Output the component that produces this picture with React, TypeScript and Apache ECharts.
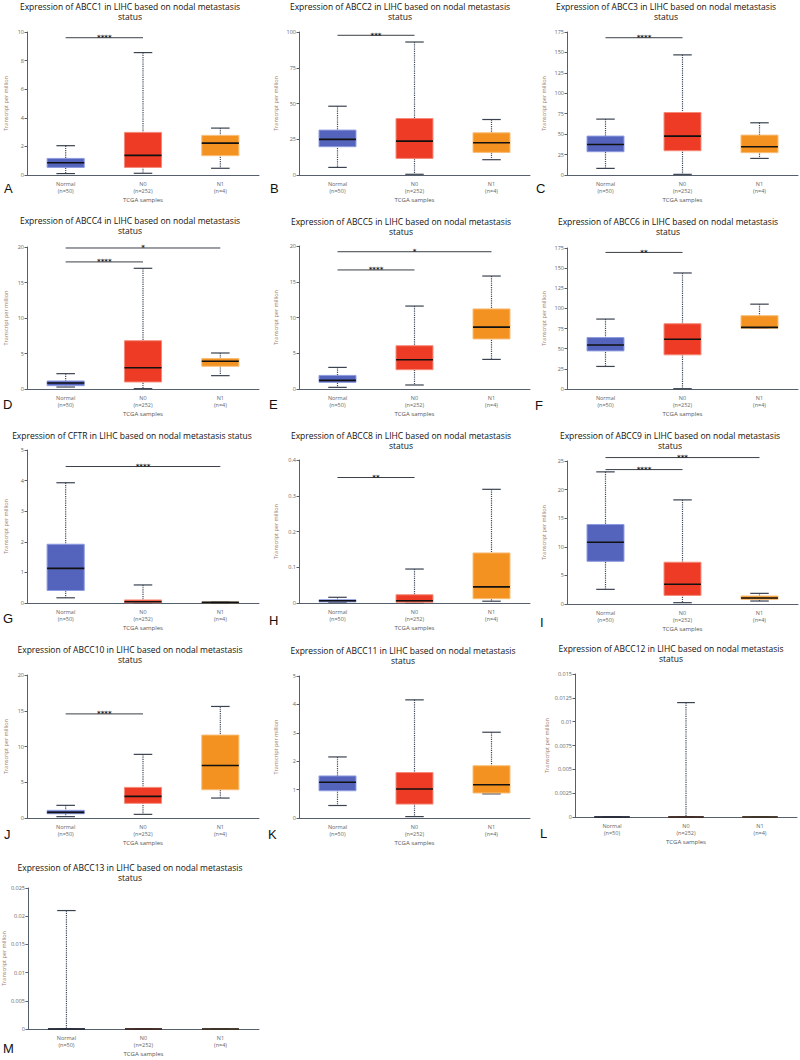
import React, { useEffect, useRef } from "react";
import * as echarts from "echarts";

// ---------- DATA ----------
const categories = ["Normal\n(n=50)", "N0\n(n=252)", "N1\n(n=4)"];
const genes = ["ABCC1", "ABCC2", "ABCC3", "ABCC4", "ABCC5", "ABCC6", "CFTR", "ABCC8", "ABCC9", "ABCC10", "ABCC11", "ABCC12", "ABCC13"];
const panelLetters = ["A", "B", "C", "D", "E", "F", "G", "H", "I", "J", "K", "L", "M"];

// each group: [min, Q1, median, Q3, max] for Normal, N0, N1
const abcc1 = [[0.1, 0.53, 0.86, 1.16, 2.05], [0.12, 0.53, 1.37, 2.98, 8.56], [0.47, 1.35, 2.23, 2.77, 3.28]];
const abcc2 = [[5.3, 19.8, 24.9, 31.4, 48.1], [0.5, 11.6, 23.7, 39.5, 93], [10.7, 15.8, 22.6, 29.5, 38.8]];
const abcc3 = [[8.1, 28.5, 37.4, 47.6, 68.4], [0.8, 29.7, 47.6, 76.5, 147], [20.3, 27.3, 34.6, 48.8, 63.9]];
const abcc4 = [[0.28, 0.47, 0.85, 1.13, 2.16], [0.05, 0.99, 3.0, 6.8, 17.0], [1.88, 3.2, 3.9, 4.3, 5.07]];
const abcc5 = [[0.23, 0.93, 1.2, 1.9, 3.02], [0.56, 2.7, 4.1, 6.05, 11.6], [4.14, 7.0, 8.65, 11.2, 15.8]];
const abcc6 = [[28, 47.3, 54.7, 63.8, 86.8], [0.4, 42.4, 61.7, 81, 144], [75.3, 75.3, 76.5, 91, 105.3]];
const cftr = [[0.17, 0.41, 1.13, 1.92, 3.93], [0, 0.01, 0.04, 0.1, 0.59], [0, 0.01, 0.02, 0.03, 0.03]];
const abcc8 = [[0.002, 0.003, 0.0065, 0.009, 0.016], [0, 0.002, 0.0065, 0.023, 0.095], [0.005, 0.012, 0.045, 0.14, 0.318]];
const abcc9 = [[2.56, 7.46, 10.8, 13.9, 23.1], [0.23, 1.5, 3.44, 7.3, 18.2], [0.52, 0.8, 1.05, 1.4, 1.86]];
const abcc10 = [[0.19, 0.6, 0.79, 1.07, 1.77], [0.51, 2.05, 3.02, 4.28, 8.9], [2.79, 3.95, 7.35, 11.6, 15.6]];
const abcc11 = [[0.44, 0.96, 1.26, 1.48, 2.15], [0.05, 0.49, 1.02, 1.6, 4.16], [0.85, 0.88, 1.17, 1.84, 3.02]];
const abcc12 = [[0, 0, 0, 0, 0], [0, 0, 0, 0, 0.012], [0, 0, 0, 0, 0]];
const abcc13 = [[0, 0, 0, 0, 0.021], [0, 0, 0, 0, 0], [0, 0, 0, 0, 0]];
const boxData = [abcc1, abcc2, abcc3, abcc4, abcc5, abcc6, cftr, abcc8, abcc9, abcc10, abcc11, abcc12, abcc13];

// axis ranges
const yMax = [10, 100, 175, 20, 20, 175, 5, 0.4, 25, 20, 5, 0.015, 0.025];
const yStep = [2, 25, 25, 5, 5, 25, 1, 0.1, 5, 5, 1, 0.0025, 0.005];

// significance bars: [fromGroup, toGroup, y]
const sigA = [[0, 1, 9.6]];
const sigB = [[0, 1, 97.7]];
const sigC = [[0, 1, 168]];
const sigD = [[0, 2, 19.86], [0, 1, 17.9]];
const sigE = [[0, 2, 19.2], [0, 1, 16.65]];
const sigF = [[0, 1, 169.5]];
const sigG = [[0, 2, 4.46]];
const sigH = [[0, 1, 0.351]];
const sigI = [[0, 2, 25.6], [0, 1, 23.5]];
const sigJ = [[0, 1, 14.56]];
const sigBars = [sigA, sigB, sigC, sigD, sigE, sigF, sigG, sigH, sigI, sigJ, [], [], []];
const sigLabels = [["****"], ["***"], ["****"], ["*", "****"], ["*", "****"], ["**"], ["****"], ["**"], ["***", "****"], ["****"], [], [], []];

// ---------- LAYOUT ----------
// [gridLeft, gridWidth, gridTop, axisBottomY]
const grids = [
  [27, 232, 32, 175], [299, 231, 32, 175], [567, 231, 32, 175],
  [27, 232, 247, 389], [299, 231, 246, 389], [567, 231, 248, 389],
  [27, 232, 450, 603], [299, 231, 460, 603], [567, 231, 461, 604],
  [27, 232, 675, 818], [299, 231, 676, 818], [575, 222, 674, 817],
  [27, 232, 888, 1029],
];
// [centerX, firstLineCenterY]
const titlePos = [
  [130, 7], [400, 7], [666, 7],
  [130, 221], [401, 222], [668, 222],
  [132, 435.5], [401, 436], [670, 436],
  [130, 650], [403, 651], [671, 649],
  [130, 868],
];
const letterPos = [
  [4, 188], [270, 188], [536, 188],
  [3, 404], [269, 404], [535, 405],
  [3, 618], [269, 620], [540, 622],
  [4, 834], [268, 834], [540, 833],
  [3, 1048],
];
const nameGaps = [18, 20, 20, 18, 20, 20, 18, 20, 20, 18, 20, 25, 18];

const groupColors = [
  { fill: "#5464BC", border: "#8D9BE0" },
  { fill: "#EE3B26", border: "#F58A78" },
  { fill: "#F39220", border: "#F8BE78" },
];

function makeBoxRender() {
  return (params: any, api: any) => {
    const i = api.value(0);
    const pMin = api.coord([i, api.value(1)]);
    const pQ1 = api.coord([i, api.value(2)]);
    const pMed = api.coord([i, api.value(3)]);
    const pQ3 = api.coord([i, api.value(4)]);
    const pMax = api.coord([i, api.value(5)]);
    const band = api.size([1, 0])[0];
    const bw = band * 0.48;
    const cw = bw * 0.5;
    const cx = pMin[0];
    const c = groupColors[params.dataIndex];
    return {
      type: "group",
      children: [
        { type: "line", shape: { x1: cx, y1: pMax[1], x2: cx, y2: pMin[1] }, style: { stroke: "#3e4a5a", lineWidth: 1.2, lineDash: [1.2, 1] } },
        { type: "line", shape: { x1: cx - cw / 2, y1: pMax[1], x2: cx + cw / 2, y2: pMax[1] }, style: { stroke: "#3a4250", lineWidth: 1.2 } },
        { type: "line", shape: { x1: cx - cw / 2, y1: pMin[1], x2: cx + cw / 2, y2: pMin[1] }, style: { stroke: "#3a4250", lineWidth: 1.2 } },
        { type: "rect", shape: { x: cx - bw / 2, y: pQ3[1], width: bw, height: pQ1[1] - pQ3[1] }, style: { fill: c.fill, stroke: c.border, lineWidth: 1 } },
        { type: "line", shape: { x1: cx - bw / 2, y1: pMed[1], x2: cx + bw / 2, y2: pMed[1] }, style: { stroke: "#111111", lineWidth: 1.6 } },
      ],
    };
  };
}

function makeSigRender(labels: string[]) {
  return (params: any, api: any) => {
    const a = api.coord([api.value(0), api.value(2)]);
    const b = api.coord([api.value(1), api.value(2)]);
    return {
      type: "group",
      children: [
        { type: "line", shape: { x1: a[0], y1: a[1], x2: b[0], y2: b[1] }, style: { stroke: "#3a3f48", lineWidth: 1 } },
        {
          type: "text",
          x: (a[0] + b[0]) / 2,
          y: a[1] + 0.5,
          style: { text: labels[params.dataIndex], align: "center", verticalAlign: "middle", fontSize: 7, fontWeight: "bold", fill: "#222", fontFamily: "DejaVu Sans" },
        },
      ],
    };
  };
}

export default function App() {
  const ref = useRef<HTMLDivElement>(null);
  useEffect(() => {
    if (!ref.current) return;
    const chart = echarts.init(ref.current, undefined, { renderer: "svg" });
    const gridArr: any[] = [];
    const xAxes: any[] = [];
    const yAxes: any[] = [];
    const series: any[] = [];
    const graphics: any[] = [];
    genes.forEach((g, k) => {
      const [l, w, t, b] = grids[k];
      gridArr.push({ left: l, top: t, width: w, height: b - t });
      xAxes.push({
        type: "category",
        gridIndex: k,
        data: categories,
        axisLine: { lineStyle: { color: "#55606c", width: 1 } },
        axisTick: { show: false },
        axisLabel: { fontSize: 5.5, lineHeight: 7, color: "#666", margin: 5, fontFamily: "Open Sans" },
        name: "TCGA samples",
        nameLocation: "middle",
        nameGap: 22,
        nameTextStyle: { fontSize: 6, color: "#555", fontFamily: "Open Sans" },
      });
      yAxes.push({
        type: "value",
        gridIndex: k,
        min: 0,
        max: yMax[k],
        interval: yStep[k],
        splitLine: { show: false },
        axisLine: { show: true, lineStyle: { color: "#55606c", width: 1 } },
        axisTick: { show: true, length: 2.5, lineStyle: { color: "#55606c" } },
        axisLabel: { fontSize: 5.5, color: "#666", margin: 3, fontFamily: "Open Sans" },
        name: "Transcript per million",
        nameLocation: "middle",
        nameGap: nameGaps[k],
        nameTextStyle: { fontSize: 5.5, color: "#A07A66", fontFamily: "Open Sans" },
      });
      series.push({
        type: "custom",
        xAxisIndex: k,
        yAxisIndex: k,
        renderItem: makeBoxRender(),
        encode: { x: 0, y: [1, 2, 3, 4, 5] },
        data: boxData[k].map((d, i) => [i, ...d]),
        silent: true,
      });
      if (sigBars[k].length) {
        series.push({
          type: "custom",
          xAxisIndex: k,
          yAxisIndex: k,
          renderItem: makeSigRender(sigLabels[k]),
          encode: { x: [0, 1], y: 2 },
          data: sigBars[k],
          silent: true,
        });
      }
      const tp = titlePos[k];
      const titleText = g === "CFTR"
        ? `Expression of ${g} in LIHC based on nodal metastasis status`
        : `Expression of ${g} in LIHC based on nodal metastasis\nstatus`;
      graphics.push({
        type: "text",
        x: tp[0],
        y: tp[1] - 5,
        style: { text: titleText, align: "center", verticalAlign: "top", fontSize: 8.5, lineHeight: 9.8, fill: "#111", fontFamily: "Open Sans" },
      });
      const lp = letterPos[k];
      graphics.push({
        type: "text",
        x: lp[0],
        y: lp[1],
        style: { text: panelLetters[k], align: "left", verticalAlign: "middle", fontSize: 13, fill: "#111", fontFamily: "Liberation Sans" },
      });
    });
    chart.setOption({
      animation: false,
      backgroundColor: "#ffffff",
      grid: gridArr,
      xAxis: xAxes,
      yAxis: yAxes,
      series,
      graphic: graphics,
    });
    return () => chart.dispose();
  }, []);
  return <div ref={ref} style={{ position: "absolute", left: 0, top: 0, width: 800, height: 1060, background: "#fff" }} />;
}
